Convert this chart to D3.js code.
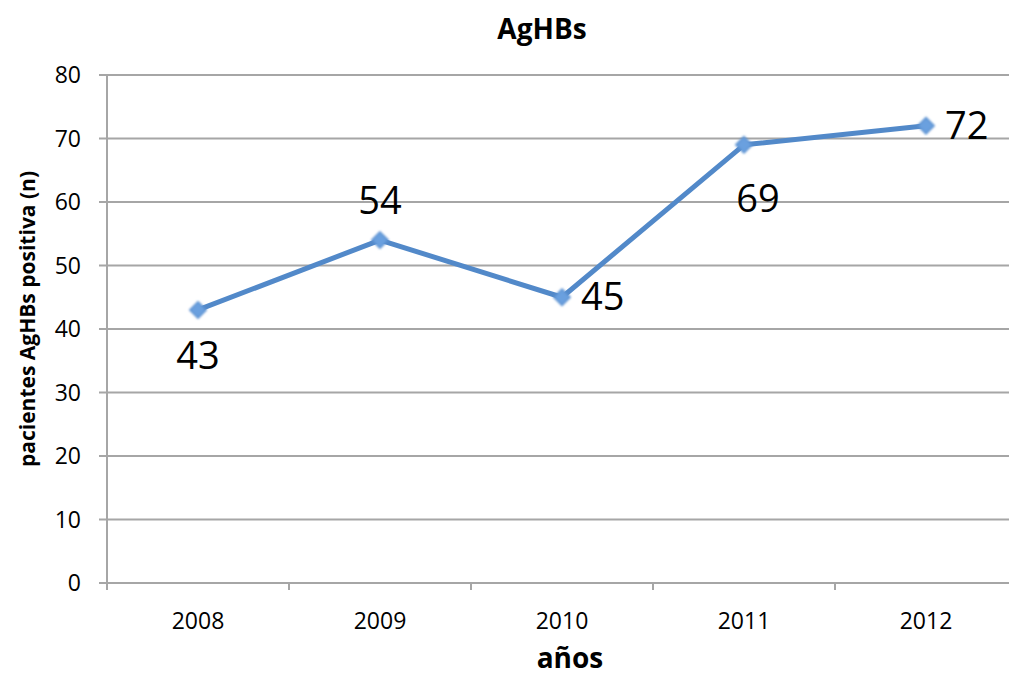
<!DOCTYPE html>
<html>
<head>
<meta charset="utf-8">
<script src="https://cdn.jsdelivr.net/npm/d3@7"></script>
<style>
  html, body { margin: 0; padding: 0; background: #fff; }
  svg { display: block; font-family: "Open Sans", "Noto Sans", sans-serif; }
</style>
</head>
<body>
<svg id="chart" width="1009" height="677"></svg>
<script>
// Chart data
const years = ["2008", "2009", "2010", "2011", "2012"];
const patients = [43, 54, 45, 69, 72];
const labelPlacement = ["below", "above", "right", "below", "right"];
const yTicks = [0, 10, 20, 30, 40, 50, 60, 70, 80];
const chartTitle = "AgHBs";
const xTitle = "años";
const yTitle = "pacientes AgHBs positiva (n)";

const svg = d3.select("#chart");
const plot = { left: 107, right: 1017, top: 75, bottom: 583 };

const x = d3.scaleBand().domain(years).range([plot.left, plot.right]).padding(0);
const y = d3.scaleLinear().domain([0, 80]).range([plot.bottom, plot.top]);

const gridColor = "#a6a6a6";
const lineColor = "#5289c9";

// horizontal grid lines
svg.append("g")
  .selectAll("line")
  .data(yTicks)
  .join("line")
  .attr("x1", plot.left - 8)
  .attr("x2", plot.right)
  .attr("y1", d => y(d))
  .attr("y2", d => y(d))
  .attr("stroke", gridColor)
  .attr("stroke-width", 2);

// y axis line
svg.append("line")
  .attr("x1", plot.left).attr("x2", plot.left)
  .attr("y1", plot.top).attr("y2", plot.bottom + 7)
  .attr("stroke", gridColor).attr("stroke-width", 2);

// x axis tick marks at category boundaries
const boundaries = years.map(d => x(d)).slice(1).concat([plot.right]);
svg.append("g")
  .selectAll("line")
  .data(boundaries)
  .join("line")
  .attr("x1", d => d).attr("x2", d => d)
  .attr("y1", plot.bottom).attr("y2", plot.bottom + 7)
  .attr("stroke", gridColor).attr("stroke-width", 2);

// y tick labels
svg.append("g")
  .selectAll("text")
  .data(yTicks)
  .join("text")
  .attr("x", 81)
  .attr("y", d => y(d))
  .attr("dy", "0.35em")
  .attr("text-anchor", "end")
  .attr("font-size", 23)
  .attr("fill", "#000")
  .text(d => d);

// x tick labels
svg.append("g")
  .selectAll("text")
  .data(years)
  .join("text")
  .attr("x", d => x(d) + x.bandwidth() / 2)
  .attr("y", 629)
  .attr("text-anchor", "middle")
  .attr("font-size", 23)
  .attr("fill", "#000")
  .text(d => d);

// titles
svg.append("text")
  .attr("x", 542).attr("y", 39)
  .attr("text-anchor", "middle")
  .attr("font-size", 28).attr("font-weight", "bold")
  .text(chartTitle);

svg.append("text")
  .attr("x", 570).attr("y", 668)
  .attr("text-anchor", "middle")
  .attr("font-size", 28).attr("font-weight", "bold")
  .text(xTitle);

svg.append("text")
  .attr("transform", "translate(35,319) rotate(-90)")
  .attr("text-anchor", "middle")
  .attr("font-size", 21).attr("font-weight", "bold")
  .text(yTitle);

// soft glow for the markers
const defs = svg.append("defs");
const glow = defs.append("filter").attr("id", "soft")
  .attr("x", "-50%").attr("y", "-50%").attr("width", "200%").attr("height", "200%");
glow.append("feGaussianBlur").attr("stdDeviation", 0.9);

const pts = years.map((d, i) => ({ year: d, value: patients[i], place: labelPlacement[i] }));
const cx = d => x(d.year) + x.bandwidth() / 2;

// series line
svg.append("path")
  .datum(pts)
  .attr("fill", "none")
  .attr("stroke", lineColor)
  .attr("stroke-width", 5)
  .attr("stroke-linejoin", "round")
  .attr("d", d3.line().x(cx).y(d => y(d.value)));

// diamond markers
svg.append("g")
  .selectAll("path")
  .data(pts)
  .join("path")
  .attr("transform", d => `translate(${cx(d)},${y(d.value)})`)
  .attr("d", d3.symbol().type(d3.symbolDiamond2).size(170))
  .attr("fill", "#6aa0df")
  .attr("stroke", "#5a90d0")
  .attr("stroke-width", 1.5)
  .attr("filter", "url(#soft)");

// value labels
svg.append("g")
  .selectAll("text")
  .data(pts)
  .join("text")
  .attr("font-size", 38)
  .attr("fill", "#000")
  .attr("text-anchor", d => d.place === "right" ? "start" : "middle")
  .attr("x", d => d.place === "right" ? cx(d) + 19 : cx(d) + (d.value === 69 ? 14 : 0))
  .attr("y", d => {
    const py = y(d.value);
    if (d.place === "above") return py - 26;
    if (d.place === "right") return py + 13;
    return d.value === 69 ? py + 67 : py + 59;
  })
  .text(d => d.value);
</script>
</body>
</html>
